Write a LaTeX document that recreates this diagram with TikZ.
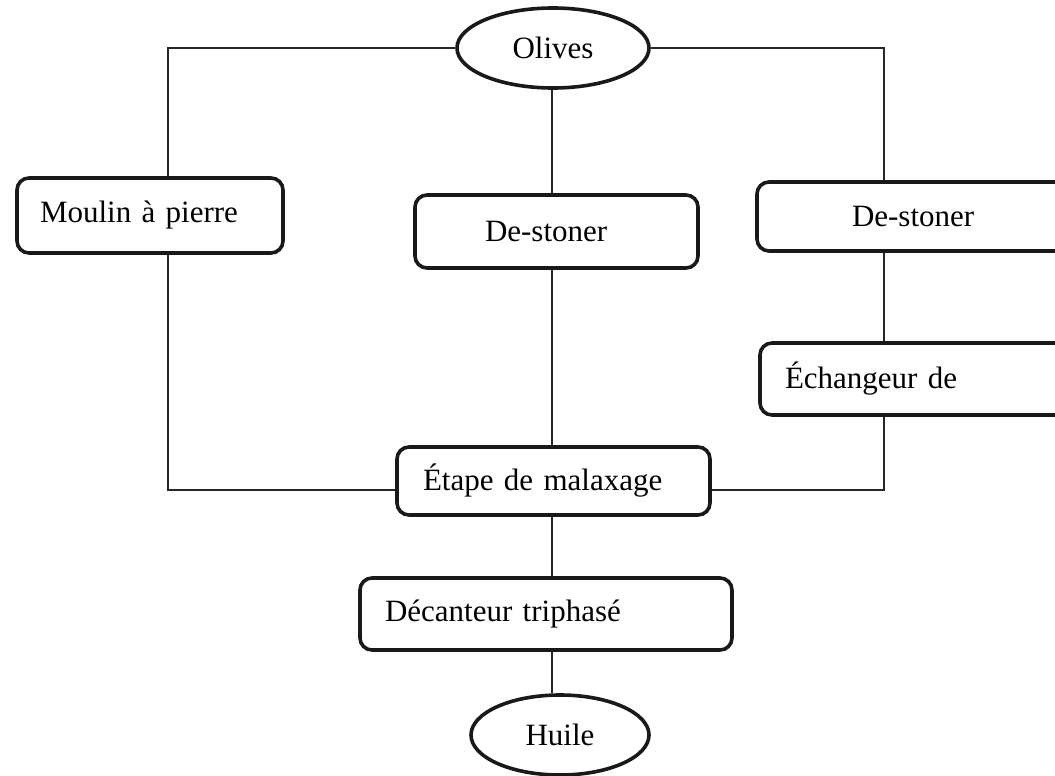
\documentclass[tikz,border=0pt]{standalone}
\usepackage{fontspec}
\setmainfont{Liberation Serif}
\usetikzlibrary{shapes.geometric}
\tikzset{
  boxnode/.style={draw=black!90, line width=3.6pt, rounded corners=12pt, align=left,
     inner ysep=0pt, font=\fontsize{31}{37}\selectfont},
  ellnode/.style={draw=black!90, ellipse, line width=3.6pt, inner sep=0pt,
     font=\fontsize{31}{37}\selectfont},
  link/.style={draw=black!85, line width=1.3pt}
}
\newcommand{\mybox}[7]{% name, cx, cy, w, h, xsep, text
  \node[boxnode, minimum width=#4pt, minimum height=#5pt, inner xsep=#6pt,
        text width=#4pt-2*#6pt] (#1) at (#2,#3) {#7};}
\begin{document}
\begin{tikzpicture}[x=1pt,y=-1pt]
\useasboundingbox (0,0) rectangle (1055,776);
\clip (0,0) rectangle (1055,776);
\fill[white] (0,0) rectangle (1055,776);

\node[ellnode, minimum width=192pt, minimum height=80pt] (olives) at (553,48) {Olives};
\mybox{moulin}{150}{215.5}{266}{75}{23}{Moulin à pierre}
\mybox{mid}{556.5}{231.5}{283}{73}{70}{De-stoner}
\mybox{rds}{918.5}{216.5}{323}{69}{95}{De-stoner}
\mybox{ech}{920}{379}{320}{72}{25}{Échangeur de}
\mybox{etape}{553.5}{481}{313}{68}{26}{Étape de malaxage}
\mybox{dec}{546}{614}{372}{72}{25}{Décanteur triphasé}
\node[ellnode, minimum width=178pt, minimum height=80pt] (huile) at (560,735) {Huile};

% left branch
\draw[link] (olives.west) -| ([xshift=18pt]moulin.north);
\draw[link] ([xshift=18pt]moulin.south) |- ([yshift=-9pt]etape.west);
% middle branch
\draw[link] ([xshift=-1pt]olives.south) -- ([xshift=-1pt]olives.south |- mid.north);
\draw[link] ([xshift=-1pt]olives.south |- mid.south) -- ([xshift=-1pt]olives.south |- etape.north);
\draw[link] ([xshift=-1pt]olives.south |- etape.south) -- ([xshift=-1pt]olives.south |- dec.north);
\draw[link] ([xshift=-1pt]olives.south |- dec.south) -- ([xshift=-1pt]olives.south |- huile.north);
% right branch
\draw[link] (olives.east) -| ([xshift=-34.5pt]rds.north);
\draw[link] ([xshift=-34.5pt]rds.south) -- ([xshift=-34.5pt]rds.south |- ech.north);
\draw[link] ([xshift=-34.5pt]rds.south |- ech.south) |- ([yshift=-9pt]etape.east);
\end{tikzpicture}
\end{document}
